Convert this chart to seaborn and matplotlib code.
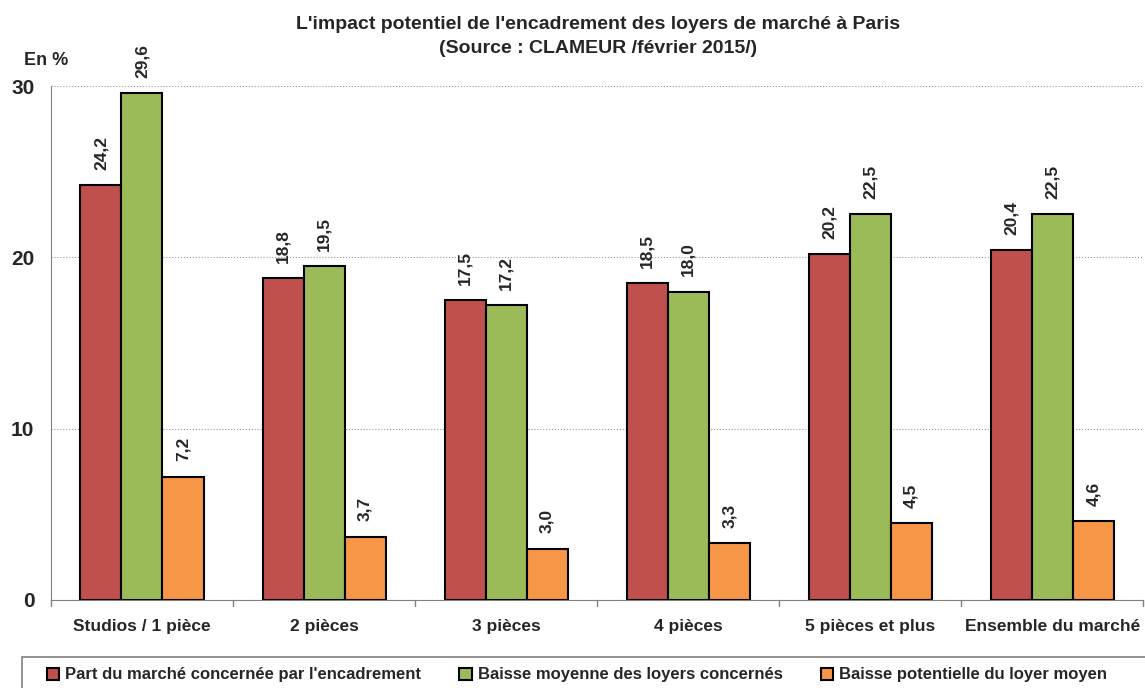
import pandas as pd
import seaborn as sns
import matplotlib.pyplot as plt
from matplotlib.patches import Rectangle

# Données (en %)
categories = ["Studios / 1 pièce", "2 pièces", "3 pièces", "4 pièces",
              "5 pièces et plus", "Ensemble du marché"]
part_marche = [24.2, 18.8, 17.5, 18.5, 20.2, 20.4]
baisse_moyenne = [29.6, 19.5, 17.2, 18.0, 22.5, 22.5]
baisse_potentielle = [7.2, 3.7, 3.0, 3.3, 4.5, 4.6]
series = ["Part du marché concernée par l'encadrement",
          "Baisse moyenne des loyers concernés",
          "Baisse potentielle du loyer moyen"]
colors = ["#c0504d", "#9bbb59", "#f79646"]

df = pd.DataFrame({
    "Catégorie": categories * 3,
    "Série": [series[0]] * 6 + [series[1]] * 6 + [series[2]] * 6,
    "Valeur": part_marche + baisse_moyenne + baisse_potentielle,
})

sns.set_style("white")
plt.rcParams['font.family'] = ['Liberation Sans', 'DejaVu Sans']
plt.rcParams['font.weight'] = 'bold'

W, H = 1145, 688
fig = plt.figure(figsize=(W / 100, H / 100), dpi=100)
ax = fig.add_axes([0.0445, 0.128, 0.954, 0.747])

sns.barplot(data=df, x="Catégorie", y="Valeur", hue="Série", palette=colors,
            width=0.676, edgecolor="black", linewidth=1.5, saturation=1,
            ax=ax, legend=True)

for cont in ax.containers:
    labels = [f"{v:.1f}".replace(".", ",") for v in cont.datavalues]
    ax.bar_label(cont, labels=labels, rotation=90, padding=11,
                 fontsize=12.5, fontweight="bold")

ax.set_ylim(0, 30)
ax.set_xlim(-0.5, 5.5)
ax.set_yticks([0, 10, 20, 30])
ax.set_yticklabels(["0", "10", "20", "30"], fontsize=15, fontweight="bold")
ax.set_xticks(range(len(categories)))
ax.set_xticklabels(categories, fontsize=12.5, fontweight="bold")
ax.tick_params(axis="x", length=0, pad=14)
ax.tick_params(axis="y", length=5, direction="in", pad=12)
for b in range(7):
    ax.plot([b - 0.5, b - 0.5], [0, -0.35], color="#808080", lw=1, clip_on=False)
ax.yaxis.grid(True, linestyle=":", color="#999999", linewidth=0.8)
ax.set_axisbelow(True)
ax.set_xlabel("")
ax.set_ylabel("")
for s in ["top", "right"]:
    ax.spines[s].set_visible(False)
ax.spines["left"].set_color("#808080")
ax.spines["bottom"].set_color("#808080")

fig.text(0.021, 0.905, "En %", fontsize=13, fontweight="bold")
fig.suptitle("L'impact potentiel de l'encadrement des loyers de marché à Paris\n"
             "(Source : CLAMEUR /février 2015/)", x=0.522, y=0.977,
             fontsize=14, fontweight="bold", linespacing=1.55)

# legend: entries without frame, plus a box running off the bottom/right edges
handles, labs = ax.get_legend_handles_labels()
ax.legend_.remove()
leg = fig.legend(handles, labs, loc="center",
                 bbox_to_anchor=(577 / W, 1 - 675 / H), ncol=3,
                 frameon=False, handlelength=0.75, handleheight=0.75,
                 handletextpad=0.35, columnspacing=2.3, borderpad=0,
                 borderaxespad=0, prop={"weight": "bold", "size": 12})
for h in leg.legend_handles:
    h.set_linewidth(1.5)
fig.patches.append(Rectangle((22 / W, -0.05), 1.1, 0.05 + (H - 657) / H,
                             transform=fig.transFigure, fill=False,
                             edgecolor="#808080", linewidth=1.2))

fig.savefig("out.png", dpi=100)
